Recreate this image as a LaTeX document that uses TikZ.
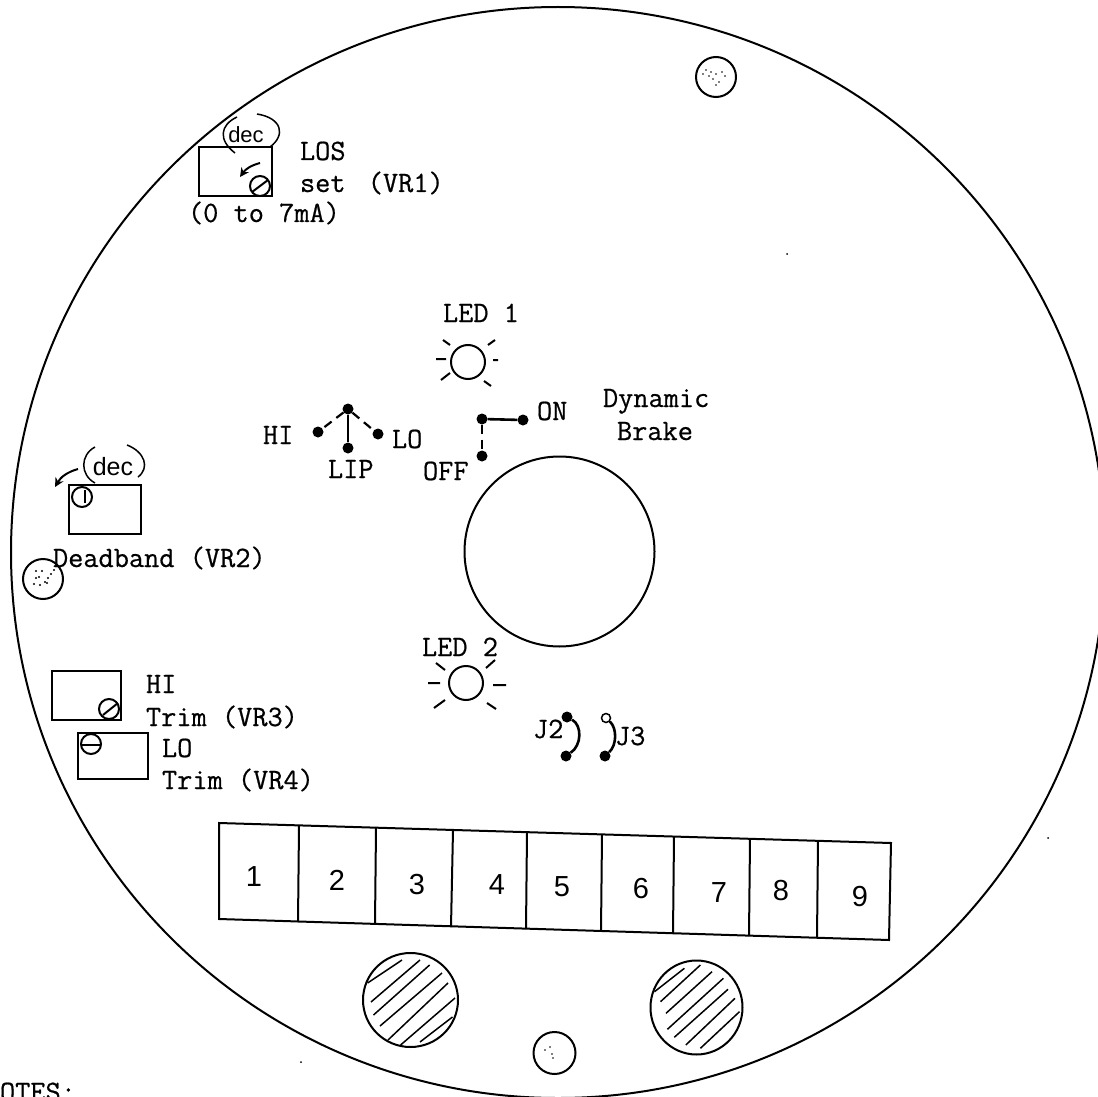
\documentclass[tikz,border=0pt]{standalone}
\usepackage{fontspec}
\newfontfamily\handfont{Liberation Sans}
\newfontfamily\typefont{Latin Modern Mono}[FakeBold=0.6]
\usetikzlibrary{arrows.meta,shapes.geometric}
\tikzset{
  x=1pt,y=-1pt,
  ink/.style={draw=black,line width=2pt},
  thinink/.style={draw=black,line width=1.5pt},
  lab/.style={inner sep=0pt,outer sep=0pt,anchor=base west,font=\typefont\fontsize{29.5}{29.5}\selectfont},
  digit/.style={inner sep=0pt,font=\handfont\fontsize{29}{29}\selectfont},
  dectext/.style={inner sep=0pt,font=\handfont\fontsize{22}{22}\selectfont},
  pot/.style={circle,ink,inner sep=0pt,minimum size=20pt},
  hole/.style={circle,ink,inner sep=0pt,minimum size=40pt},
  ledc/.style={circle,ink,inner sep=0pt,minimum size=34pt},
  pin/.style={circle,fill=black,inner sep=0pt,minimum size=11pt},
  openpin/.style={circle,draw=black,line width=1.5pt,fill=white,inner sep=0pt,minimum size=9pt},
  speck/.style={fill=black},
  dashwire/.style={draw=black,line width=2.2pt,dash pattern=on 9pt off 6pt},
  solidwire/.style={draw=black,line width=2.6pt},
  arr/.style={draw=black,line width=2pt,-{Stealth[length=9pt,width=9pt]}},
}
\begin{document}
\begin{tikzpicture}
\useasboundingbox (0,0) rectangle (1098,1097);
\clip (0,0) rectangle (1098,1097);
\fill[white] (0,0) rectangle (1098,1097);

% board outline and centre hole
\draw[ink] (558,552.5) ellipse [x radius=547,y radius=545.5];
\node[circle,ink,inner sep=0pt,minimum size=190pt] (centre) at (559.5,551.5) {};

% mounting holes
\node[hole] (holeTop) at (716,77) {};
\node[hole] (holeLeft) at (43,579) {};
\node[hole,minimum size=42pt] (holeBot) at (554.5,1053) {};
\foreach \px/\py in {706/70,709/76,713/79,716/74,719/82,722/72,725/76,716/85,711/72,703/74}
  \fill[speck] (\px,\py) circle (0.9pt);
\foreach \px/\py in {36/571,39/577,42/571,45/582,48/578,51/574,54/570,40/585,34/584,47/583,36/578}
  \fill[speck] (\px,\py) circle (1.1pt);
\foreach \px/\py in {550/1047,545/1050,552/1054,553/1058}
  \fill[speck] (\px,\py) circle (0.8pt);
\foreach \px/\py in {787/254,301/1062,1048/838}
  \fill[speck] (\px,\py) circle (1pt);

% LOS pot (VR1)
\draw[ink] (199,147) rectangle (272,196);
\node[pot] (potOne) at (260,186) {};
\draw[ink] (252,192) -- (268,180);
\coordinate (arrOneA) at (260,163);
\coordinate (arrOneB) at (240,177);
\draw[arr] (arrOneA) to[bend right=20] (arrOneB);
\node[dectext] (decOne) at (246,135) {dec};
\draw[thinink] (235,153) .. controls (218,140) and (220,125) .. (237,117);
\draw[thinink] (257,114) .. controls (282,118) and (286,135) .. (270,147);
\node[lab] (los) at (300,160) {LOS};
\node[lab] (setvr) at (300,192) {set\hspace{7pt} (VR1)};
\node[lab] (range) at (188,222) {(0 to 7mA)};

% Deadband pot (VR2)
\draw[ink] (69,485) rectangle (141,534);
\node[pot] (potTwo) at (82,497) {};
\draw[ink] (85,490) -- (85,503);
\coordinate (arrTwoA) at (78,469);
\coordinate (arrTwoB) at (55,487);
\draw[arr] (arrTwoA) to[bend right=22] (arrTwoB);
\node[dectext,font=\handfont\fontsize{25}{25}\selectfont] (decTwo) at (113,467) {dec};
\draw[thinink] (95,447) .. controls (80,455) and (80,475) .. (95,483);
\draw[thinink] (127,445) .. controls (145,452) and (150,468) .. (138,477);
\node[lab] (deadband) at (53,567) {Deadband (VR2)};

% Trim pots
\draw[ink] (52,671) rectangle (121,720);
\node[pot] (potThree) at (109,709) {};
\draw[ink] (103,715) -- (118,703);
\node[lab] (hi) at (146,693) {HI};
\node[lab] (trimThree) at (146,726) {Trim (VR3)};
\draw[ink] (78,733) rectangle (148,779);
\node[pot] (potFour) at (91,744) {};
\draw[ink] (82,745) -- (100,745);
\node[lab] (lo) at (162,757) {LO};
\node[lab] (trimFour) at (162,789) {Trim (VR4)};

% LED 1
\node[lab] (ledOneT) at (443,322) {LED 1};
\node[ledc] (ledOne) at (468,362) {};
\draw[ink] (436,359)--(446,359) (493,360)--(498,360) (443,340)--(450,345) (495,340)--(488,345) (441,380)--(450,373) (484,381)--(491,386);

% LED 2
\node[lab] (ledTwoT) at (422,656) {LED 2};
\node[ledc] (ledTwo) at (466,683) {};
\draw[ink] (428,683)--(440,683) (493,685)--(506,685) (436,663)--(445,670) (486,668)--(495,660) (434,708)--(445,700) (487,703)--(496,709);

% LIP switch
\node[pin] (swC) at (348,409) {};
\node[pin] (swLip) at (348,448) {};
\node[pin] (swHi) at (318,432) {};
\node[pin] (swLo) at (378,434) {};
\draw[solidwire] (swC) -- (swLip);
\draw[dashwire] (swC) -- (swHi);
\draw[dashwire] (swC) -- (swLo);
\node[lab] (hiT) at (263,444) {HI};
\node[lab] (loT) at (392,448) {LO};
\node[lab] (lipT) at (328,478) {LIP};

% Dynamic brake switch
\node[pin] (brA) at (482,419) {};
\node[pin] (brOn) at (523,420) {};
\node[pin] (brOff) at (482,456) {};
\draw[solidwire] (brA) -- (brOn);
\draw[dashwire] (brA) -- (brOff);
\node[lab] (onT) at (537,420) {ON};
\node[lab] (offT) at (423,480) {OFF};
\node[lab] (dyn) at (603,407) {Dynamic};
\node[lab] (brake) at (617,440) {Brake};

% Jumpers
\node[pin] (jTwoA) at (567,717) {};
\node[pin] (jTwoB) at (566,756) {};
\draw[solidwire] (jTwoA) .. controls (582,725) and (582,745) .. (jTwoB);
\node[lab] (jTwoT) at (533,738) {J2};
\node[openpin] (jThreeA) at (606,718) {};
\node[pin] (jThreeB) at (605,756) {};
\draw[solidwire] (jThreeA) .. controls (617,728) and (617,745) .. (jThreeB);
\node[lab] (jThreeT) at (615,745) {J3};

% Terminal strip
\draw[ink] (219,823) -- (891,843) -- (889,940) -- (219,919) -- cycle;
\foreach \tx/\ty/\bx/\by in {299/826/298/922, 376/828/375/924, 453/830/451/927, 527/833/526/929, 602/835/601/931, 674/837/673/934, 750/839/749/936, 818/841/817/938}
  \draw[ink] (\tx,\ty) -- (\bx,\by);
\node[digit] (tOne) at (254,877) {1};
\node[digit] (tTwo) at (337,880) {2};
\node[digit] (tThree) at (417,885) {3};
\node[digit] (tFour) at (497,885) {4};
\node[digit] (tFive) at (562,887) {5};
\node[digit] (tSix) at (641,889) {6};
\node[digit] (tSeven) at (719,893) {7};
\node[digit] (tEight) at (781,891) {8};
\node[digit] (tNine) at (860,897) {9};

% Hatched studs
\node[ellipse,ink,inner sep=0pt,minimum width=95pt,minimum height=94pt] (studL) at (410.5,1000) {};
\foreach \ax/\ay/\bx/\by in {367.6/983/402/960, 371/1002/420/960, 373.5/1015/429.6/965, 380/1026/442/973, 388/1040/448/983, 400.6/1045/455/998, 420/1042/452.5/1017}
  \draw[thinink] (\ax,\ay) -- (\bx,\by);
\node[ellipse,ink,inner sep=0pt,minimum width=92pt,minimum height=94pt] (studR) at (696.5,1007.5) {};
\foreach \ax/\ay/\bx/\by in {654.5/991.7/684.4/968.3, 660.5/1001.7/700.4/965, 666/1013.3/712/971.7, 667.4/1029.3/723.4/978.3, 674.3/1037.3/728/989.3, 685.8/1045/735/998.3, 700.4/1048.3/739.5/1011.7}
  \draw[thinink] (\ax,\ay) -- (\bx,\by);

\node[lab] (notes) at (0,1101) {OTES:};
\end{tikzpicture}
\end{document}
